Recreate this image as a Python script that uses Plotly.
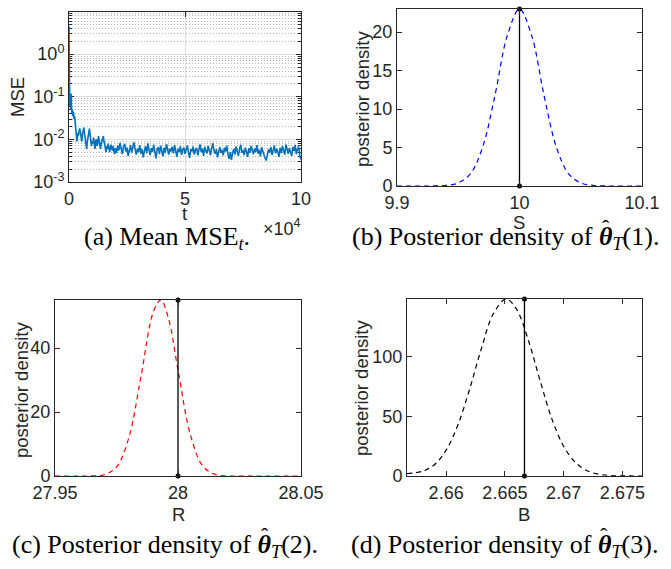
import plotly.graph_objects as go

W, H = 671, 569

# ---------------- data ----------------
# (a) mean MSE_t
t_early = [0, 60, 120, 200, 300, 400, 500, 600, 700, 800, 900, 1000, 1100, 1200, 1300, 1400,
           1600, 1800, 2000, 2200, 2400, 2600, 2800, 3000, 3200, 3400, 3600, 3800, 4000, 4300,
           4600, 4900, 5200, 5500, 5800, 6100, 6400, 6700, 7000, 7300, 7600, 7900, 8200, 8500,
           8800, 9100, 9400, 9700, 10000, 10300, 10600, 10900, 11200, 11500, 11800, 12100,
           12400, 12700, 13000, 13300, 13600, 13900, 14200, 14500, 14800, 15100, 15400, 15700,
           16000, 16300, 16600, 16900, 17200, 17500, 17800, 18100, 18400, 18700, 19000, 19300,
           19600]
mse_early = [4.5, 1.2, 0.3, 0.12, 0.06, 0.09, 0.11, 0.07, 0.05, 0.10, 0.12, 0.08, 0.05, 0.04,
             0.06, 0.05, 0.035, 0.045, 0.04, 0.03, 0.035, 0.028, 0.02, 0.016, 0.012, 0.009,
             0.011, 0.014, 0.012, 0.016, 0.018, 0.015, 0.011, 0.009, 0.013, 0.017, 0.019, 0.014,
             0.011, 0.008, 0.006, 0.009, 0.012, 0.016, 0.018, 0.013, 0.009, 0.007, 0.009, 0.008,
             0.011, 0.008, 0.006, 0.009, 0.010, 0.007, 0.008, 0.012, 0.009, 0.007, 0.006, 0.008,
             0.009, 0.010, 0.012, 0.009, 0.007, 0.006, 0.005, 0.007, 0.006, 0.008, 0.006, 0.005,
             0.0065, 0.0075, 0.006, 0.0055, 0.007, 0.005, 0.0045]
t_late = list(range(20000, 100001, 500))
mse_late = [
    0.0062, 0.0048, 0.0071, 0.0055, 0.0083, 0.0060, 0.0045, 0.0068, 0.0078, 0.0052,
    0.0064, 0.0041, 0.0057, 0.0073, 0.0049, 0.0066, 0.0085, 0.0058, 0.0044, 0.0061,
    0.0050, 0.0072, 0.0046, 0.0059, 0.0038, 0.0054, 0.0069, 0.0047, 0.0081, 0.0056,
    0.0043, 0.0062, 0.0051, 0.0075, 0.0048, 0.0036, 0.0058, 0.0066, 0.0045, 0.0071,
    0.0053, 0.0040, 0.0063, 0.0049, 0.0078, 0.0057, 0.0044, 0.0061, 0.0052, 0.0067,
    0.0047, 0.0074, 0.0055, 0.0039, 0.0060, 0.0050, 0.0069, 0.0043, 0.0058, 0.0064,
    0.0046, 0.0056, 0.0072, 0.0049, 0.0037, 0.0059, 0.0052, 0.0068, 0.0044, 0.0057,
    0.0063, 0.0042, 0.0055, 0.0076, 0.0050, 0.0061, 0.0041, 0.0067, 0.0053, 0.0047,
    0.0070, 0.0054, 0.0043, 0.0062, 0.0081, 0.0055, 0.0046, 0.0059, 0.0038, 0.0051,
    0.0066, 0.0048, 0.0057, 0.0042, 0.0064, 0.0052, 0.0071, 0.0045, 0.0035, 0.0050,
    0.0033, 0.0047, 0.0060, 0.0044, 0.0068, 0.0053, 0.0041, 0.0058, 0.0075, 0.0049,
    0.0056, 0.0043, 0.0064, 0.0051, 0.0039, 0.0062, 0.0048, 0.0070, 0.0054, 0.0045,
    0.0061, 0.0050, 0.0073, 0.0046, 0.0057, 0.0040, 0.0065, 0.0052, 0.0044, 0.0036,
    0.0032, 0.0045, 0.0058, 0.0049, 0.0067, 0.0043, 0.0055, 0.0072, 0.0047, 0.0060,
    0.0051, 0.0039, 0.0063, 0.0048, 0.0069, 0.0054, 0.0044, 0.0076, 0.0057, 0.0046,
    0.0062, 0.0050, 0.0041, 0.0066, 0.0053, 0.0074, 0.0045, 0.0059, 0.0068, 0.0040,
    0.0034]
t_all = t_early + t_late
mse_all = mse_early + mse_late

# (b) posterior density of S
s_x = [9.90, 9.92, 9.93, 9.94, 9.95, 9.96, 9.97, 9.98, 9.99, 10.00,
       10.01, 10.02, 10.03, 10.04, 10.05, 10.06, 10.07, 10.08, 10.10]
s_y = [0.0, 0.0, 0.01, 0.08, 0.4, 1.6, 5.1, 11.8, 19.5, 23.0,
       19.5, 11.8, 5.1, 1.6, 0.4, 0.08, 0.01, 0.0, 0.0]
s_true = 10.0

# (c) posterior density of R
r_x = [27.95, 27.96, 27.965, 27.97, 27.975, 27.98, 27.985, 27.99, 27.993, 27.996,
       28.0, 28.005, 28.01, 28.015, 28.02, 28.025, 28.03, 28.05]
r_y = [0.0, 0.0, 0.04, 0.4, 2.8, 11.9, 31.3, 51.3, 55.0, 49.6,
       33.2, 13.0, 3.2, 0.5, 0.04, 0.0, 0.0, 0.0]
r_true = 28.0

# (d) posterior density of B
b_x = [2.65667, 2.658, 2.659, 2.660, 2.661, 2.662, 2.663, 2.664, 2.6651, 2.666,
       2.667, 2.668, 2.669, 2.670, 2.671, 2.672, 2.673, 2.674, 2.675, 2.67667]
b_y = [2.0, 4.0, 9.5, 21.7, 42.9, 73.0, 107.0, 136.0, 148.7, 140.0,
       114.0, 80.0, 48.0, 25.0, 11.4, 4.4, 1.5, 0.4, 0.1, 0.0]
b_true = 2.666667

# ---------------- layout helpers ----------------
def px_x(p):
    return p / W

def px_y(p):
    return 1 - p / H

AX = "#262626"
SANS = "Liberation Sans, Arial, sans-serif"
SERIF = "Liberation Serif, Times New Roman, serif"
TICKFONT = dict(family=SANS, size=18, color=AX)
LBLFONT = dict(family=SANS, size=18.5, color=AX)
CAPFONT = dict(family=SERIF, size=26, color="black")

def axis_common(**kw):
    d = dict(showline=True, linecolor=AX, linewidth=1, mirror="allticks",
             ticks="inside", ticklen=5, tickcolor=AX, tickfont=TICKFONT,
             showgrid=False, zeroline=False, fixedrange=True, automargin=False)
    d.update(kw)
    return d

fig = go.Figure()

# (a)
fig.add_trace(go.Scatter(x=t_all, y=mse_all, mode="lines",
                         line=dict(color="#0072BD", width=1.6),
                         xaxis="x", yaxis="y", showlegend=False))
# (b)
fig.add_trace(go.Scatter(x=s_x, y=s_y, mode="lines",
                         line=dict(color="#0000FF", width=1.2, dash="5px,4px", shape="spline"),
                         xaxis="x2", yaxis="y2", showlegend=False))
fig.add_trace(go.Scatter(x=[s_true, s_true], y=[0, max(s_y)], mode="lines+markers",
                         line=dict(color="black", width=1.3),
                         marker=dict(color="black", size=5),
                         xaxis="x2", yaxis="y2", showlegend=False, cliponaxis=False))
# (c)
fig.add_trace(go.Scatter(x=r_x, y=r_y, mode="lines",
                         line=dict(color="#FF0000", width=1.2, dash="5px,4px", shape="spline"),
                         xaxis="x3", yaxis="y3", showlegend=False))
fig.add_trace(go.Scatter(x=[r_true, r_true], y=[0, max(r_y)], mode="lines+markers",
                         line=dict(color="black", width=1.3),
                         marker=dict(color="black", size=5),
                         xaxis="x3", yaxis="y3", showlegend=False, cliponaxis=False))
# (d)
fig.add_trace(go.Scatter(x=b_x, y=b_y, mode="lines",
                         line=dict(color="black", width=1.2, dash="5px,4px", shape="spline"),
                         xaxis="x4", yaxis="y4", showlegend=False))
fig.add_trace(go.Scatter(x=[b_true, b_true], y=[0, max(b_y)], mode="lines+markers",
                         line=dict(color="black", width=1.3),
                         marker=dict(color="black", size=5),
                         xaxis="x4", yaxis="y4", showlegend=False, cliponaxis=False))

GRID = "#dcdcdc"
fig.update_layout(
    width=W, height=H,
    margin=dict(l=0, r=0, t=0, b=0, autoexpand=False),
    paper_bgcolor="white", plot_bgcolor="white",
    xaxis=axis_common(domain=[px_x(69), px_x(301)], anchor="y", range=[0, 100000],
                      tickvals=[0, 50000, 100000], ticktext=["0", "5", "10"],
                      showgrid=True, gridcolor=GRID, gridwidth=1, layer="below traces"),
    yaxis=axis_common(domain=[px_y(182), px_y(12)], anchor="x", type="log", range=[-3, 0.99],
                      tickvals=[1e-3, 1e-2, 1e-1, 1],
                      ticktext=["10<sup>-3</sup>", "10<sup>-2</sup>", "10<sup>-1</sup>", "10<sup>0</sup>"],
                      showgrid=True, gridcolor=GRID, gridwidth=1, layer="below traces",
                      minor=dict(ticks="inside", ticklen=3, tickcolor=AX, showgrid=True,
                                 gridcolor="#b4b4b4", griddash="1px,2px", gridwidth=1, dtick="D1")),
    xaxis2=axis_common(domain=[px_x(397), px_x(642)], anchor="y2", range=[9.9, 10.1],
                       tickvals=[9.9, 10.0, 10.1], ticktext=["9.9", "10", "10.1"]),
    yaxis2=axis_common(domain=[px_y(186), px_y(9)], anchor="x2", range=[0, max(s_y)],
                       tickvals=[0, 5, 10, 15, 20]),
    xaxis3=axis_common(domain=[px_x(55), px_x(301)], anchor="y3", range=[27.95, 28.05],
                       tickvals=[27.95, 28.0, 28.05], ticktext=["27.95", "28", "28.05"]),
    yaxis3=axis_common(domain=[px_y(476), px_y(300)], anchor="x3", range=[0, max(r_y)],
                       tickvals=[0, 20, 40]),
    xaxis4=axis_common(domain=[px_x(407), px_x(642)], anchor="y4", range=[2.65667, 2.67667],
                       tickvals=[2.66, 2.665, 2.67, 2.675],
                       ticktext=["2.66", "2.665", "2.67", "2.675"]),
    yaxis4=axis_common(domain=[px_y(476), px_y(299)], anchor="x4", range=[0, max(b_y)],
                       tickvals=[0, 50, 100]),
)

def ann(text, x, y, font, angle=0, xanchor="center", yanchor="middle"):
    fig.add_annotation(text=text, x=px_x(x), y=px_y(y), xref="paper", yref="paper",
                       showarrow=False, font=font, textangle=angle,
                       xanchor=xanchor, yanchor=yanchor)

# axis labels
ann("MSE", 17, 97, LBLFONT, angle=-90)
ann("t", 185, 214, LBLFONT)
ann("×10<sup>4</sup>", 303, 227, TICKFONT, xanchor="right")
ann("posterior density", 363, 99, LBLFONT, angle=-90)
ann("S", 519, 222, LBLFONT)
ann("posterior density", 21, 390, LBLFONT, angle=-90)
ann("R", 178, 514, LBLFONT)
ann("posterior density", 361, 388, LBLFONT, angle=-90)
ann("B", 524, 514, LBLFONT)

# captions
theta = "<b><i>θ</i></b><sub><i>T</i></sub>"
ann("(a) Mean MSE<sub><i>t</i></sub>.", 167, 238, CAPFONT)
ann("(b) Posterior density of " + theta + "(1).", 506, 238, CAPFONT)
ann("(c) Posterior density of " + theta + "(2).", 165, 546, CAPFONT)
ann("(d) Posterior density of " + theta + "(3).", 504, 546, CAPFONT)
HATFONT = dict(family=SERIF, size=22, color="black")
ann("ˆ", 606, 227, HATFONT)
ann("ˆ", 265, 535, HATFONT)
ann("ˆ", 604, 535, HATFONT)

fig.write_html("out.html", config={"displayModeBar": False},
               post_script="document.body.style.margin='0px';")
